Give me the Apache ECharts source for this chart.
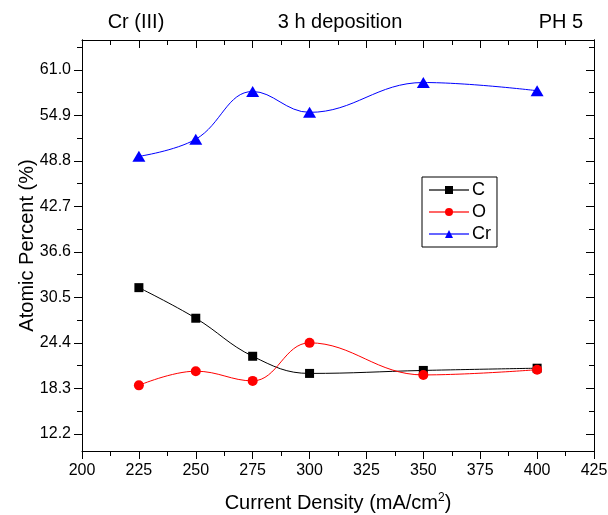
<!DOCTYPE html>
<html>
<head>
<meta charset="utf-8">
<script src="https://cdn.jsdelivr.net/npm/echarts@6/dist/echarts.min.js"></script>
<style>
  html, body { margin: 0; padding: 0; background: #fff; }
  #chart { width: 608px; height: 515px; }
</style>
</head>
<body>
<div id="chart"></div>
<script>
// current density (mA/cm2)
var density = [225, 250, 275, 300, 350, 400]
// atomic percent (%)
var carbon = [31.8, 27.7, 22.6, 20.3, 20.7, 21.0]
var oxygen = [18.7, 20.6, 19.3, 24.4, 20.1, 20.8]
var chromium = [49.4, 51.7, 58.1, 55.3, 59.3, 58.2]
// y tick labels
var yTicks = [12.2, 18.3, 24.4, 30.5, 36.6, 42.7, 48.8, 54.9, 61.0]

var FONT = "Liberation Sans, Arial, sans-serif"

// minor ticks halfway between labels, plus one above the top label
var yMinor = yTicks.map(function (v) { return +(v + 3.05).toFixed(2) })

function pairs(ys) {
  return density.map(function (x, i) { return [x, ys[i]] })
}

function yAxisOf(position, ticks, len, inside, withLabels) {
  return {
    type: "value",
    position: position,
    min: 9.9,
    max: 65.0,
    axisLine: { show: withLabels !== null, lineStyle: { color: "#000", width: 1 } },
    axisTick: { show: true, customValues: ticks, length: len, inside: inside, lineStyle: { color: "#000", width: 1 } },
    axisLabel: withLabels ? {
      show: true, customValues: ticks, color: "#000", fontSize: 16, fontFamily: FONT, margin: 11,
      formatter: function (v) { return v.toFixed(1) },
    } : { show: false },
    splitLine: { show: false },
  }
}

var chart = echarts.init(document.getElementById("chart"), null, { renderer: "canvas" })

var xBase = {
  type: "value",
  min: 200,
  max: 425,
  interval: 25,
  axisLine: { onZero: false, lineStyle: { color: "#000", width: 1 } },
  splitLine: { show: false },
}

chart.setOption({
  backgroundColor: "#fff",
  animation: false,
  grid: { left: 82, right: 14, top: 40, bottom: 64, containLabel: false, outerBoundsMode: "none" },
  graphic: [
    { type: "text", x: 136, y: 22, style: { text: "Cr (III)", font: "20px " + FONT, fill: "#000", textAlign: "center", textVerticalAlign: "middle" } },
    { type: "text", x: 340, y: 22, style: { text: "3 h deposition", font: "20px " + FONT, fill: "#000", textAlign: "center", textVerticalAlign: "middle" } },
    { type: "text", x: 561, y: 22, style: { text: "PH 5", font: "20px " + FONT, fill: "#000", textAlign: "center", textVerticalAlign: "middle" } },
  ],
  legend: {
    data: ["C", "O", "Cr"],
    orient: "vertical",
    left: 422,
    top: 177,
    padding: [4, 6, 4, 6],
    itemGap: 4,
    itemWidth: 40,
    itemHeight: 10,
    borderColor: "#000",
    borderWidth: 1,
    lineStyle: { opacity: 0.6 },
    textStyle: { color: "#000", fontSize: 18, fontFamily: FONT, padding: [0, 0, 0, -2] },
  },
  xAxis: [
    Object.assign({}, xBase, {
      position: "bottom",
      name: "{t|Current Density (mA/cm}{s|2}{t|)}",
      nameLocation: "middle",
      nameGap: 41,
      nameMoveOverlap: false,
      nameTextStyle: {
        rich: {
          t: { fontSize: 20, fontFamily: FONT, color: "#000" },
          s: { fontSize: 12, fontFamily: FONT, color: "#000", padding: [0, 0, 10, 0] },
        },
      },
      axisTick: { length: 8, lineStyle: { color: "#000" } },
      minorTick: { show: true, splitNumber: 2, length: 5, lineStyle: { color: "#000" } },
      axisLabel: { color: "#000", fontSize: 16, fontFamily: FONT, margin: 12 },
    }),
    Object.assign({}, xBase, {
      position: "top",
      axisTick: { inside: true, length: 8, lineStyle: { color: "#000" } },
      minorTick: { show: true, splitNumber: 2, length: 5, lineStyle: { color: "#000" } },
      axisLabel: { show: false },
    }),
  ],
  yAxis: [
    Object.assign(yAxisOf("left", yTicks, 8, false, true), {
      name: "Atomic Percent (%)",
      nameLocation: "middle",
      nameGap: 45,
      nameMoveOverlap: false,
      nameTextStyle: { color: "#000", fontSize: 20, fontFamily: FONT },
    }),
    yAxisOf("left", yMinor, 5, false, false),
    yAxisOf("right", yTicks, 8, true, false),
    yAxisOf("right", yMinor, 5, true, false),
  ],
  series: [
    {
      name: "C",
      type: "line",
      data: pairs(carbon),
      smooth: 0.4,
      symbol: "rect",
      symbolSize: 9,
      itemStyle: { color: "#000" },
      lineStyle: { color: "#000", width: 1 },
    },
    {
      name: "O",
      type: "line",
      data: pairs(oxygen),
      smooth: 0.4,
      symbol: "circle",
      symbolSize: 10,
      itemStyle: { color: "#ff0000" },
      lineStyle: { color: "#ff0000", width: 1 },
    },
    {
      name: "Cr",
      type: "line",
      data: pairs(chromium),
      smooth: 0.4,
      symbol: "triangle",
      symbolSize: [13, 11],
      itemStyle: { color: "#0000ff" },
      lineStyle: { color: "#0000ff", width: 1 },
    },
  ],
})
</script>
</body>
</html>
